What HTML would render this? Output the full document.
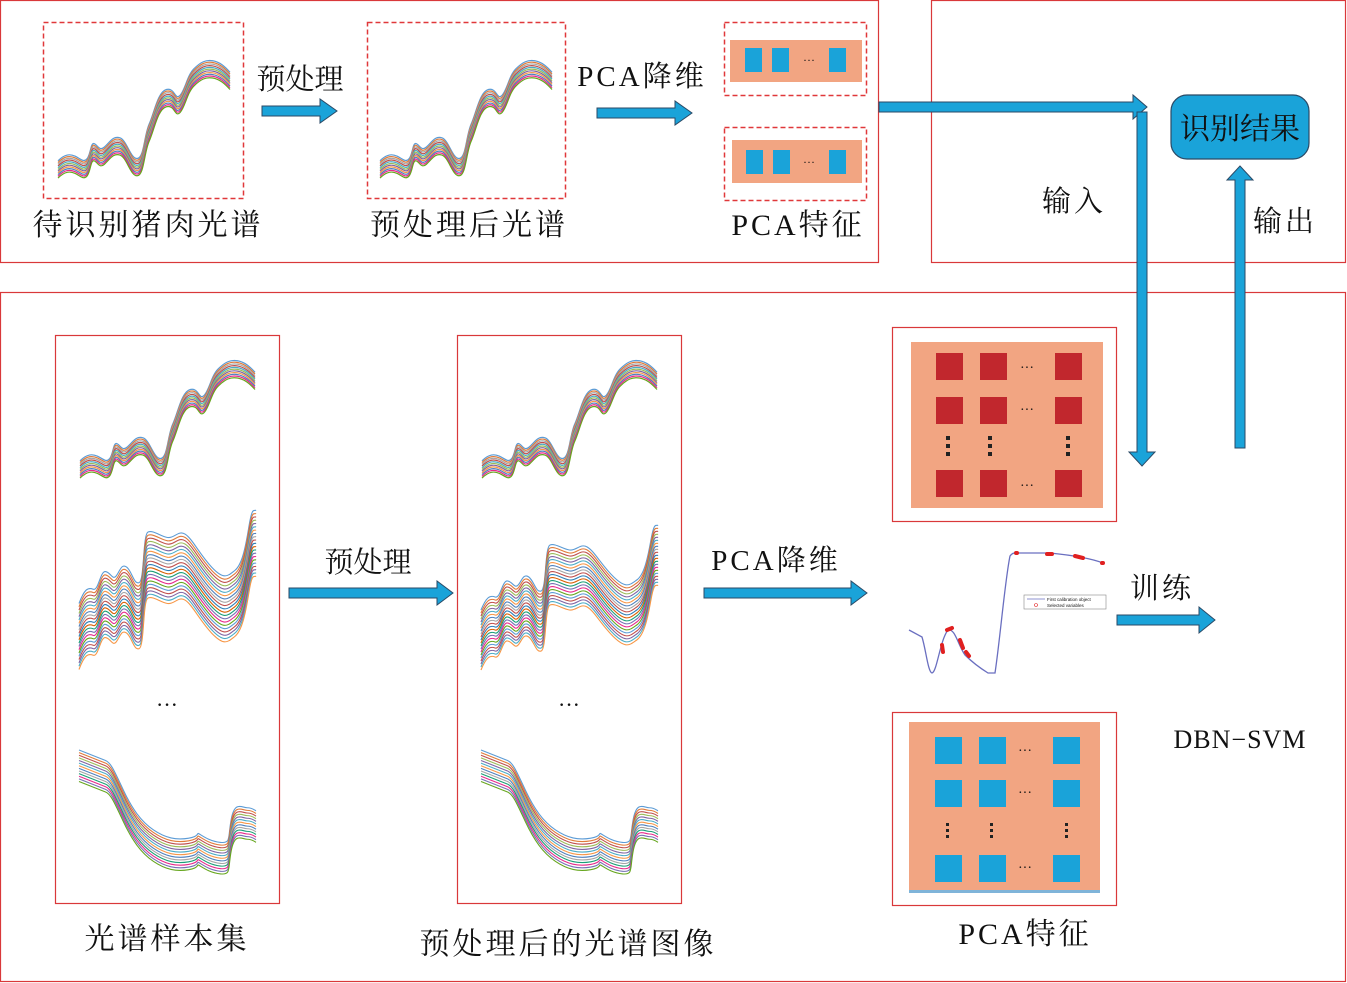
<!DOCTYPE html>
<html><head><meta charset="utf-8">
<style>
html,body{margin:0;padding:0;background:#fff;}
svg{display:block;}
text{font-family:"Liberation Serif","Noto Serif CJK SC",serif;fill:#111;}
.ls{letter-spacing:3px;}
</style></head><body>
<svg width="1347" height="983" viewBox="0 0 1347 983" xmlns="http://www.w3.org/2000/svg">
<defs>
<path id="sa" fill="none" stroke-linejoin="round" vector-effect="non-scaling-stroke" d="M0,92 C4,86 7,86 10,88 S15,94 17,90 S19,76 21,77 S24,84 27,80 S32,70 36,72 S42,90 46,90 S50,70 53,60 S58,32 63,30 S68,40 71,35 S75,18 79,12 S86,4 90,5 S97,10 100,15"/>
<path id="sb" fill="none" stroke-linejoin="round" vector-effect="non-scaling-stroke" d="M0,85 C3,72 5,70 8,72 S12,55 15,56 S19,64 21,60 S24,48 27,52 S31,68 34,66 S36,22 39,20 S46,24 50,25 S56,18 60,22 S68,40 75,52 S84,60 88,55 S94,35 96,15 S99,2 100,0"/>
<path id="sc" fill="none" stroke-linejoin="round" vector-effect="non-scaling-stroke" d="M0,0 C6,4 12,8 15,10 S20,20 25,38 S35,68 42,76 S55,86 62,84 S66,78 68,80 S74,87 80,88 S84,84 86,66 S92,55 95,55 S99,57 100,58"/>
<g id="A" stroke-width="1.2">
<use href="#sa" stroke="#5b9bd5" transform="translate(0,0)"/>
<use href="#sa" stroke="#e07b39" transform="translate(0,1.5)"/>
<use href="#sa" stroke="#a5a5a5" transform="translate(0,3)"/>
<use href="#sa" stroke="#c0504d" transform="translate(0,4.5)"/>
<use href="#sa" stroke="#4bacc6" transform="translate(0,6)"/>
<use href="#sa" stroke="#9bbb59" transform="translate(0,7.5)"/>
<use href="#sa" stroke="#8064a2" transform="translate(0,9)"/>
<use href="#sa" stroke="#f79646" transform="translate(0,10.5)"/>
<use href="#sa" stroke="#4f81bd" transform="translate(0,12)"/>
<use href="#sa" stroke="#e7298a" transform="translate(0,13.5)"/>
<use href="#sa" stroke="#66a61e" transform="translate(0,15)"/>
</g>
<g id="B" stroke-width="1.1">
<use href="#sb" stroke="#5b9bd5" transform="translate(0,0)"/>
<use href="#sb" stroke="#e07b39" transform="translate(0,3)"/>
<use href="#sb" stroke="#c0504d" transform="translate(0,6)"/>
<use href="#sb" stroke="#9bbb59" transform="translate(0,9)"/>
<use href="#sb" stroke="#8064a2" transform="translate(0,12)"/>
<use href="#sb" stroke="#4bacc6" transform="translate(0,15)"/>
<use href="#sb" stroke="#f79646" transform="translate(0,18)"/>
<use href="#sb" stroke="#4f81bd" transform="translate(0,21)"/>
<use href="#sb" stroke="#a5a5a5" transform="translate(0,24)"/>
<use href="#sb" stroke="#c0504d" transform="translate(0,27)"/>
<use href="#sb" stroke="#2c7fb8" transform="translate(0,30)"/>
<use href="#sb" stroke="#d95f02" transform="translate(0,33)"/>
<use href="#sb" stroke="#1b9e77" transform="translate(0,36)"/>
<use href="#sb" stroke="#7570b3" transform="translate(0,39)"/>
<use href="#sb" stroke="#e7298a" transform="translate(0,42)"/>
<use href="#sb" stroke="#66a61e" transform="translate(0,45)"/>
<use href="#sb" stroke="#5b9bd5" transform="translate(0,48)"/>
<use href="#sb" stroke="#c0504d" transform="translate(0,51)"/>
<use href="#sb" stroke="#8064a2" transform="translate(0,54)"/>
<use href="#sb" stroke="#4bacc6" transform="translate(0,57)"/>
<use href="#sb" stroke="#f79646" transform="translate(0,60)"/>
</g>
<g id="C" stroke-width="1.1">
<use href="#sc" stroke="#5b9bd5" transform="translate(0,0)"/>
<use href="#sc" stroke="#e07b39" transform="translate(0,2.5)"/>
<use href="#sc" stroke="#c0504d" transform="translate(0,5)"/>
<use href="#sc" stroke="#9bbb59" transform="translate(0,7.5)"/>
<use href="#sc" stroke="#8064a2" transform="translate(0,10)"/>
<use href="#sc" stroke="#4bacc6" transform="translate(0,12.5)"/>
<use href="#sc" stroke="#f79646" transform="translate(0,15)"/>
<use href="#sc" stroke="#4f81bd" transform="translate(0,17.5)"/>
<use href="#sc" stroke="#a5a5a5" transform="translate(0,20)"/>
<use href="#sc" stroke="#1b9e77" transform="translate(0,22.5)"/>
<use href="#sc" stroke="#e7298a" transform="translate(0,25)"/>
<use href="#sc" stroke="#7570b3" transform="translate(0,27.5)"/>
<use href="#sc" stroke="#66a61e" transform="translate(0,30)"/>
</g>
</defs>

<g fill="none" stroke="#d9383a" stroke-width="1.2">
<rect x="0.5" y="0.5" width="878" height="262"/>
<rect x="931.5" y="0.5" width="414" height="262"/>
<rect x="0.5" y="292.5" width="1345" height="689"/>
<rect x="55.5" y="335.5" width="224" height="568"/>
<rect x="457.5" y="335.5" width="224" height="568"/>
<rect x="892.5" y="327.5" width="224" height="194"/>
<rect x="892.5" y="712.5" width="224" height="193"/>
</g>
<g fill="none" stroke="#e0383a" stroke-width="1.5" stroke-dasharray="5,3">
<rect x="43.5" y="22.5" width="200" height="176"/>
<rect x="367.5" y="22.5" width="198" height="176"/>
<rect x="724.5" y="22.5" width="142" height="73"/>
<rect x="724.5" y="127.5" width="142" height="73"/>
</g>

<g transform="translate(58,55) scale(1.72,1.15)"><use href="#A"/></g>
<g transform="translate(380,55) scale(1.72,1.15)"><use href="#A"/></g>

<rect x="730" y="40" width="132" height="42" fill="#f2a582"/>
<g fill="#1aa3d9"><rect x="745" y="48" width="17" height="24"/><rect x="772" y="48" width="17" height="24"/><rect x="829" y="48" width="17" height="24"/></g>
<text x="803" y="64" font-size="12">···</text>
<rect x="732" y="140" width="130" height="43" fill="#f2a582"/>
<g fill="#1aa3d9"><rect x="746" y="150" width="17" height="24"/><rect x="773" y="150" width="17" height="24"/><rect x="829" y="150" width="17" height="24"/></g>
<text x="803" y="166" font-size="12">···</text>

<text x="148" y="235" font-size="30" text-anchor="middle" class="ls">待识别猪肉光谱</text>
<text x="469" y="235" font-size="30" text-anchor="middle" class="ls">预处理后光谱</text>
<text x="798" y="235" font-size="30" text-anchor="middle" class="ls">PCA特征</text>
<text x="300" y="89" font-size="29" text-anchor="middle">预处理</text>
<text x="642" y="86" font-size="29" text-anchor="middle" class="ls">PCA降维</text>
<text x="1074" y="211" font-size="29" text-anchor="middle" class="ls">输入</text>
<text x="1285" y="231" font-size="29" text-anchor="middle" class="ls">输出</text>

<g fill="#1aa3d9" stroke="#2b4a66" stroke-width="1">
<polygon points="262,106 320,106 320,99 337,111 320,123 320,116 262,116"/>
<polygon points="597,108 675,108 675,101 692,113 675,125 675,118 597,118"/>
<polygon points="879,102 1133,102 1133,95 1147,107 1133,119 1133,112 879,112"/>
<polygon points="1137,112 1147,112 1147,452 1155,452 1142,466 1129,452 1137,452"/>
<polygon points="1235,448 1245,448 1245,180 1253,180 1240,166 1227,180 1235,180"/>
<polygon points="289,588 437,588 437,581 453,593 437,605 437,598 289,598"/>
<polygon points="704,588 851,588 851,581 867,593 851,605 851,598 704,598"/>
<polygon points="1117,615 1199,615 1199,607 1215,620 1199,633 1199,625 1117,625"/>
</g>
<rect x="1171" y="95" width="138" height="64" rx="16" fill="#1aa3d9" stroke="#2b4a66" stroke-width="1.2"/>
<text x="1240" y="139" font-size="30" text-anchor="middle">识别结果</text>

<g transform="translate(80,355) scale(1.75,1.15)"><use href="#A"/></g>
<g transform="translate(79,510) scale(1.77,1.1)"><use href="#B"/></g>
<g transform="translate(79,750) scale(1.77,1.05)"><use href="#C"/></g>
<text x="167" y="712" font-size="22" text-anchor="middle">···</text>
<g transform="translate(482,355) scale(1.75,1.15)"><use href="#A"/></g>
<g transform="translate(481,525) scale(1.77,1.0)"><use href="#B"/></g>
<g transform="translate(481,750) scale(1.77,1.05)"><use href="#C"/></g>
<text x="569" y="712" font-size="22" text-anchor="middle">···</text>

<text x="167" y="949" font-size="30" text-anchor="middle" class="ls">光谱样本集</text>
<text x="568" y="954" font-size="30" text-anchor="middle" class="ls">预处理后的光谱图像</text>
<text x="368" y="572" font-size="29" text-anchor="middle">预处理</text>
<text x="776" y="570" font-size="29" text-anchor="middle" class="ls">PCA降维</text>
<text x="1162" y="598" font-size="29" text-anchor="middle" class="ls">训练</text>
<text x="1240" y="748" font-size="26" text-anchor="middle" style="letter-spacing:1px">DBN−SVM</text>
<text x="1025" y="944" font-size="30" text-anchor="middle" class="ls">PCA特征</text>

<rect x="911" y="342" width="192" height="166" fill="#f2a582"/>
<g fill="#c1272d">
<rect x="936" y="353" width="27" height="27"/><rect x="980" y="353" width="27" height="27"/><rect x="1055" y="353" width="27" height="27"/>
<rect x="936" y="397" width="27" height="27"/><rect x="980" y="397" width="27" height="27"/><rect x="1055" y="397" width="27" height="27"/>
<rect x="936" y="470" width="27" height="27"/><rect x="980" y="470" width="27" height="27"/><rect x="1055" y="470" width="27" height="27"/>
</g>
<g fill="#222">
<text x="1020" y="372" font-size="14">···</text><text x="1020" y="414" font-size="14">···</text><text x="1020" y="490" font-size="14">···</text>
<rect x="946" y="436" width="4" height="4"/><rect x="946" y="444" width="4" height="4"/><rect x="946" y="452" width="4" height="4"/>
<rect x="988" y="436" width="4" height="4"/><rect x="988" y="444" width="4" height="4"/><rect x="988" y="452" width="4" height="4"/>
<rect x="1066" y="436" width="4" height="4"/><rect x="1066" y="444" width="4" height="4"/><rect x="1066" y="452" width="4" height="4"/>
</g>

<rect x="909" y="722" width="191" height="171" fill="#f2a582"/>
<rect x="909" y="890" width="191" height="3" fill="#7fb4d9"/>
<g fill="#1aa3d9">
<rect x="935" y="737" width="27" height="27"/><rect x="979" y="737" width="27" height="27"/><rect x="1053" y="737" width="27" height="27"/>
<rect x="935" y="780" width="27" height="27"/><rect x="979" y="780" width="27" height="27"/><rect x="1053" y="780" width="27" height="27"/>
<rect x="935" y="855" width="27" height="27"/><rect x="979" y="855" width="27" height="27"/><rect x="1053" y="855" width="27" height="27"/>
</g>
<g fill="#222">
<text x="1018" y="755" font-size="14">···</text><text x="1018" y="797" font-size="14">···</text><text x="1018" y="872" font-size="14">···</text>
<rect x="946" y="823" width="3" height="3"/><rect x="946" y="829" width="3" height="3"/><rect x="946" y="835" width="3" height="3"/>
<rect x="990" y="823" width="3" height="3"/><rect x="990" y="829" width="3" height="3"/><rect x="990" y="835" width="3" height="3"/>
<rect x="1065" y="823" width="3" height="3"/><rect x="1065" y="829" width="3" height="3"/><rect x="1065" y="835" width="3" height="3"/>
</g>

<path fill="none" stroke="#6a6fc0" stroke-width="1.3" d="M909,630 L922,637 C926,650 928,672 932,673 C937,672 940,640 948,630 C955,628 958,645 965,655 C972,662 980,668 988,673 L995,673 C1000,640 1005,580 1010,556 C1013,552 1016,553 1020,553 L1050,553 C1070,555 1090,558 1103,563"/>
<g stroke="#e02020" stroke-width="4" stroke-linecap="round" fill="none">
<line x1="942" y1="645" x2="943" y2="652"/><line x1="947" y1="630" x2="952" y2="628"/>
<line x1="960" y1="640" x2="963" y2="648"/><line x1="966" y1="652" x2="969" y2="656"/>
<line x1="1047" y1="554" x2="1052" y2="554"/><line x1="1075" y1="556" x2="1083" y2="558"/>
<line x1="1102" y1="563" x2="1103" y2="563"/><line x1="1016" y1="553" x2="1017" y2="553"/>
</g>
<rect x="1024" y="595" width="82" height="14" fill="#fff" stroke="#888" stroke-width="0.6"/>
<line x1="1027" y1="599" x2="1045" y2="599" stroke="#6a6fc0" stroke-width="0.8"/>
<circle cx="1036" cy="605" r="1.5" fill="none" stroke="#e02020" stroke-width="0.6"/>
<text x="1047" y="601" font-size="4.5" style="font-family:'Liberation Sans',sans-serif">First calibration object</text>
<text x="1047" y="607" font-size="4.5" style="font-family:'Liberation Sans',sans-serif">Selected variables</text>
</svg>
</body></html>
